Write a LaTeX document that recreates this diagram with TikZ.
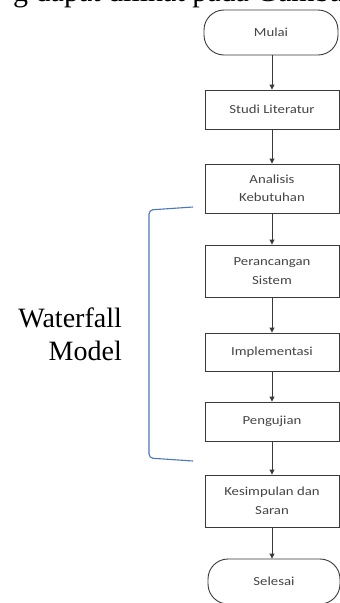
\documentclass[tikz,border=0pt]{standalone}
\usepackage{fontspec}
\setmainfont{Liberation Serif}
\newfontfamily\boxfont[FakeStretch=1.2]{Carlito}
\usetikzlibrary{arrows.meta}
\definecolor{edgegray}{HTML}{3A3A3A}
\definecolor{textgray}{HTML}{454545}
\definecolor{bracketblue}{HTML}{4A78BE}
\tikzset{
  x=1pt, y=-1pt,
  stepbox/.style={draw=edgegray, line width=0.9pt, fill=white, minimum width=134pt,
    align=center, font=\boxfont\fontsize{12.3}{18.5}\selectfont, text=textgray, inner sep=0pt},
  terminal/.style={stepbox, rounded corners=20pt, minimum height=45pt},
  flow/.style={draw=edgegray, line width=0.9pt, -{Triangle[length=5pt,width=5pt]}},
  sidetext/.style={font=\fontsize{28}{33}\selectfont, inner sep=0pt, anchor=base east},
}
\begin{document}
\begin{tikzpicture}
\clip (0,0) rectangle (340,603);
\fill[white] (0,0) rectangle (340,603);

% running text of the page above the chart
\node[font=\fontsize{30}{36}\selectfont, inner sep=0pt, anchor=base west] (line) at (13,1.5) {g dapat dilihat pada Gambar};

% flowchart
\node[terminal, minimum width=134pt] (mulai) at (271,32.5) {Mulai};
\node[stepbox, minimum height=39pt] (studi) at (272,109.5) {Studi Literatur};
\node[stepbox, minimum height=49pt] (analisis) at (272,188.5) {Analisis\\Kebutuhan};
\node[stepbox, minimum height=52pt] (rancang) at (272,271) {Perancangan\\Sistem};
\node[stepbox, minimum height=38pt] (impl) at (272,352) {Implementasi};
\node[stepbox, minimum height=39pt] (uji) at (272,421.5) {Pengujian};
\node[stepbox, minimum height=52pt] (simpul) at (272,501) {Kesimpulan dan\\Saran};
\node[terminal, minimum width=132pt] (selesai) at (274,581.5) {Selesai};

\draw[flow] (mulai.south -| studi) -- (studi.north);
\draw[flow] (studi) -- (analisis);
\draw[flow] (analisis) -- (rancang);
\draw[flow] (rancang) -- (impl);
\draw[flow] (impl) -- (uji);
\draw[flow] (uji) -- (simpul);
\draw[flow] (simpul) -- (selesai.north -| simpul);

% bracket grouping the waterfall phases
\coordinate (btop) at (193,207);
\coordinate (bbot) at (193,461);
\draw[bracketblue, line width=1.1pt, rounded corners=4pt]
  (btop) -- (149,210) -- (149,458) -- (bbot);

\node[sidetext] (wf1) at (122,327) {Waterfall};
\node[sidetext] (wf2) at (122,360) {Model};
\end{tikzpicture}
\end{document}
